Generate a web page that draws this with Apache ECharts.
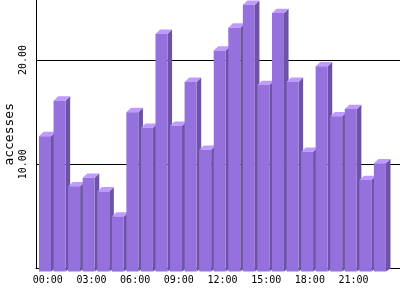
<!DOCTYPE html>
<html><head><meta charset="utf-8">
<script src="https://cdn.jsdelivr.net/npm/echarts@6/dist/echarts.min.js"></script>
<style>html,body{margin:0;padding:0;background:#fff}#c{width:400px;height:300px}</style>
</head><body><div id="c"></div>
<script>
var hours = ['00:00','01:00','02:00','03:00','04:00','05:00','06:00','07:00','08:00','09:00','10:00','11:00',
             '12:00','13:00','14:00','15:00','16:00','17:00','18:00','19:00','20:00','21:00','22:00','23:00'];
var accesses = [12.7,16.1,7.9,8.7,7.4,5.0,15.0,13.5,22.5,13.7,17.9,11.4,
                20.9,23.1,25.3,17.6,24.5,17.9,11.2,19.4,14.6,15.3,8.5,10.1];
var yTicks = [10, 20];
var yMax = 25.75;

var cats = hours.concat(['']);
var chart = echarts.init(document.getElementById('c'), null, {renderer:'canvas'});
var font = 'DejaVu Sans Mono';
chart.setOption({
  animation:false,
  grid:{left:36,right:0,top:0,bottom:31.4,containLabel:false,outerBoundsMode:'none'},
  xAxis:{type:'category',data:cats,boundaryGap:true,
    axisLine:{lineStyle:{color:'#000',width:1}},axisTick:{show:false},
    axisLabel:{interval:2,color:'#000',fontFamily:font,fontSize:10,margin:7,padding:[0,0,0,9]},
    splitLine:{show:false}},
  yAxis:{type:'value',min:0,max:yMax,interval:10,
    name:'accesses',nameLocation:'middle',nameRotate:90,nameGap:20,nameMoveOverlap:false,
    nameTextStyle:{color:'#000',fontFamily:font,fontSize:13},
    axisLine:{show:true,lineStyle:{color:'#000',width:1}},axisTick:{show:false},
    axisLabel:{rotate:90,color:'#000',fontFamily:font,fontSize:10,margin:8,showMaxLabel:false,
      formatter:function(v){return yTicks.indexOf(v)>=0? v.toFixed(2):'';}},
    splitLine:{show:true,showMaxLine:false,lineStyle:{color:'#000',width:1}}},
  series:[{type:'custom',data:accesses.map(function(v,i){return [i,v];}),
    renderItem:function(params,api){
      var i=api.value(0),v=api.value(1);
      var top=api.coord([i,v]);var base=api.coord([i,0]);
      var bw=api.size([1,0])[0];
      var fl=top[0]-bw/2+3, fr=fl+12, dx=4.6, dy=4.3;
      var yt=top[1], yb=base[1];
      return {type:'group',children:[
        {type:'polygon',shape:{points:[[fr,yt],[fr+dx,yt-dy],[fr+dx,yb],[fr,yb+3]]},style:{fill:'#6C53A6'}},
        {type:'polygon',shape:{points:[[fl,yt],[fr,yt],[fr+dx,yt-dy],[fl+dx,yt-dy]]},style:{fill:'#BF9BFF'}},
        {type:'rect',shape:{x:fl,y:yt,width:12,height:yb+3-yt},style:{fill:'#9471DC'}}
      ]};
    }}]
});
</script></body></html>
